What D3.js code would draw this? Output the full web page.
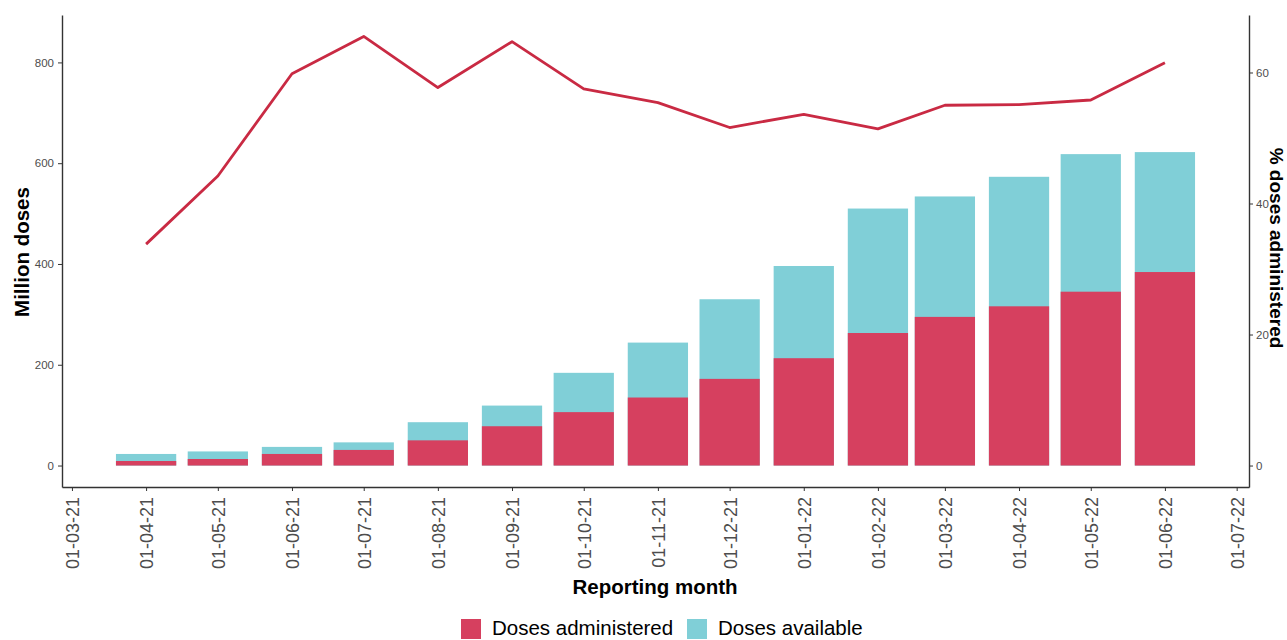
<!DOCTYPE html>
<html>
<head>
<meta charset="utf-8">
<script src="https://cdn.jsdelivr.net/npm/d3@7.9.0/dist/d3.min.js"></script>
<style>
  body { margin: 0; background: #fff; }
  svg { display: block; font-family: "Liberation Sans", Arial, sans-serif; }
</style>
</head>
<body>
<svg id="chart" width="1287" height="640"></svg>
<script>
// reporting months (first of month)
const months = ['2021-04-01', '2021-05-01', '2021-06-01', '2021-07-01', '2021-08-01', '2021-09-01',
  '2021-10-01', '2021-11-01', '2021-12-01', '2022-01-01', '2022-02-01', '2022-03-01',
  '2022-04-01', '2022-05-01', '2022-06-01'];
// million doses
const dosesAvailable = [23, 28, 37, 46, 86, 119, 184, 244, 330, 396, 510, 534, 573, 618, 622];
const dosesAdministered = [9, 13, 23, 31, 50, 78, 106, 135, 172, 213, 263, 295, 316, 345, 384];
// % doses administered (secondary axis)
const pctAdministered = [33.8, 44.2, 59.8, 65.5, 57.7, 64.7, 57.5, 55.4, 51.6, 53.6, 51.4, 55.0, 55.1, 55.8, 61.5];
const secFactor = 13;

const xTicks = ['2021-03-01', '2021-04-01', '2021-05-01', '2021-06-01', '2021-07-01', '2021-08-01',
  '2021-09-01', '2021-10-01', '2021-11-01', '2021-12-01', '2022-01-01', '2022-02-01',
  '2022-03-01', '2022-04-01', '2022-05-01', '2022-06-01', '2022-07-01'];
const yTicks = [0, 200, 400, 600, 800];
const y2Ticks = [0, 20, 40, 60];

const colAdmin = '#d6405f';
const colAvail = '#80cfd7';
const colLine = '#c92a43';

const parse = d3.utcParse('%Y-%m-%d');
const fmt = d3.utcFormat('%d-%m-%y');
const DAY = 864e5;

const rows = months.map((m, i) => ({
  date: parse(m),
  avail: dosesAvailable[i],
  admin: dosesAdministered[i],
  pct: pctAdministered[i],
}));

const panel = { left: 62, right: 1249, top: 15, bottom: 487 };
const svg = d3.select('#chart');

// bar width: 90% of the 28-day resolution, like geom_col on dates
const barDays = 0.9 * 28;
const half = barDays / 2 * DAY;
const x0 = +rows[0].date - half;
const x1 = +rows[rows.length - 1].date + half;
const xpad = (x1 - x0) * 0.05;
const x = d3.scaleUtc()
  .domain([new Date(x0 - xpad), new Date(x1 + xpad)])
  .range([panel.left, panel.right]);

const yMax = d3.max(rows, (d) => Math.max(d.avail, d.pct * secFactor));
const ypad = yMax * 0.05;
const y = d3.scaleLinear().domain([-ypad, yMax + ypad]).range([panel.bottom, panel.top]);
const y2 = d3.scaleLinear().domain([-ypad / secFactor, (yMax + ypad) / secFactor]).range([panel.bottom, panel.top]);

// bars: available stacked on administered
const bw = x(new Date(+rows[0].date + half)) - x(new Date(+rows[0].date - half));
const bars = svg.append('g');
bars.selectAll('rect.avail')
  .data(rows)
  .join('rect')
  .attr('class', 'avail')
  .attr('x', (d) => x(d.date) - bw / 2)
  .attr('width', bw)
  .attr('y', (d) => y(d.avail))
  .attr('height', (d) => y(0) - y(d.avail))
  .attr('fill', colAvail);
bars.selectAll('rect.admin')
  .data(rows)
  .join('rect')
  .attr('class', 'admin')
  .attr('x', (d) => x(d.date) - bw / 2)
  .attr('width', bw)
  .attr('y', (d) => y(d.admin))
  .attr('height', (d) => y(0) - y(d.admin))
  .attr('fill', colAdmin);

// percentage line
const line = d3.line()
  .x((d) => x(d.date))
  .y((d) => y2(d.pct));
svg.append('path')
  .datum(rows)
  .attr('d', line)
  .attr('fill', 'none')
  .attr('stroke', colLine)
  .attr('stroke-width', 2.8)
  .attr('stroke-linejoin', 'round');

// axes
const styleAxis = (g) => {
  g.select('.domain').attr('stroke', '#333').attr('stroke-width', 1.4);
  g.selectAll('.tick line').attr('stroke', '#333').attr('stroke-width', 1);
  g.selectAll('.tick text').attr('fill', '#4d4d4d').attr('font-family', 'Liberation Sans, Arial, sans-serif');
};

svg.append('g')
  .attr('transform', `translate(${panel.left},0)`)
  .call(d3.axisLeft(y).tickValues(yTicks).tickSize(4).tickPadding(4).tickSizeOuter(0))
  .call(styleAxis)
  .call((g) => g.selectAll('.tick text').attr('font-size', 11.5));

svg.append('g')
  .attr('transform', `translate(${panel.right},0)`)
  .call(d3.axisRight(y2).tickValues(y2Ticks).tickSize(4).tickPadding(3).tickSizeOuter(0))
  .call(styleAxis)
  .call((g) => g.selectAll('.tick text').attr('font-size', 11.5));

svg.append('g')
  .attr('transform', `translate(0,${panel.bottom})`)
  .call(d3.axisBottom(x).tickValues(xTicks.map(parse)).tickFormat(fmt).tickSize(4).tickSizeOuter(0))
  .call(styleAxis)
  .call((g) => g.selectAll('.tick text')
    .attr('font-size', 18)
    .attr('text-anchor', 'end')
    .attr('transform', 'rotate(-90)')
    .attr('x', -10)
    .attr('y', 0)
    .attr('dy', '0.36em'));

// axis titles
svg.append('text')
  .attr('transform', 'translate(29,252) rotate(-90)')
  .attr('text-anchor', 'middle')
  .attr('font-size', 20.5)
  .attr('font-weight', 'bold')
  .attr('fill', '#000')
  .text('Million doses');

svg.append('text')
  .attr('transform', 'translate(1270,248) rotate(90)')
  .attr('text-anchor', 'middle')
  .attr('font-size', 19)
  .attr('font-weight', 'bold')
  .attr('fill', '#000')
  .text('% doses administered');

svg.append('text')
  .attr('x', 655)
  .attr('y', 594)
  .attr('text-anchor', 'middle')
  .attr('font-size', 20.5)
  .attr('font-weight', 'bold')
  .attr('fill', '#000')
  .text('Reporting month');

// legend
const legendItems = [
  { label: 'Doses administered', color: colAdmin, x: 461 },
  { label: 'Doses available', color: colAvail, x: 687 },
];
const legend = svg.append('g');
legendItems.forEach((it) => {
  legend.append('rect')
    .attr('x', it.x).attr('y', 619).attr('width', 20).attr('height', 20)
    .attr('fill', it.color);
  legend.append('text')
    .attr('x', it.x + 31).attr('y', 635)
    .attr('font-size', 20.5)
    .attr('fill', '#000')
    .text(it.label);
});
</script>
</body>
</html>
